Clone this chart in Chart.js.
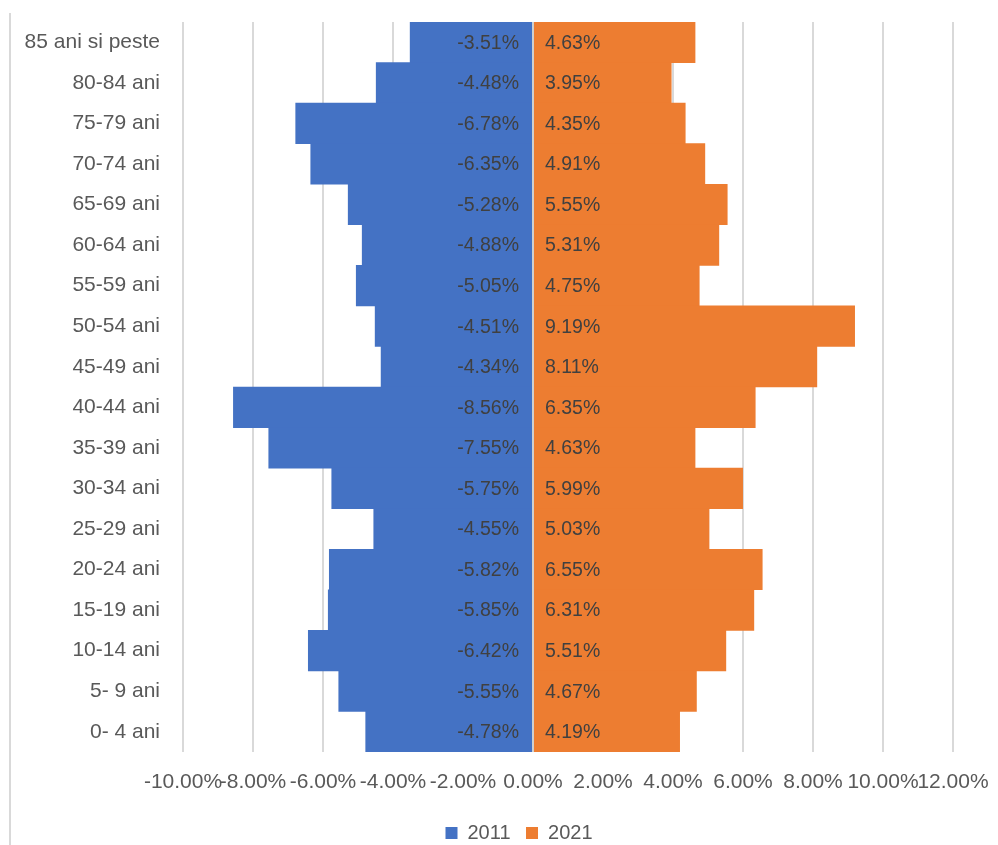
<!DOCTYPE html>
<html>
<head>
<meta charset="utf-8">
<script src="https://cdn.jsdelivr.net/npm/chart.js@4"></script>
<style>
html,body{margin:0;padding:0;background:#fff;}
#wrap{width:998px;height:845px;position:relative;}
</style>
</head>
<body>
<div id="wrap"><canvas id="c" width="998" height="845"></canvas></div>
<script>
const categories = ["85 ani si peste","80-84 ani","75-79 ani","70-74 ani","65-69 ani","60-64 ani","55-59 ani","50-54 ani","45-49 ani","40-44 ani","35-39 ani","30-34 ani","25-29 ani","20-24 ani","15-19 ani","10-14 ani","5- 9 ani","0- 4 ani"];
const values2011 = [-3.51,-4.48,-6.78,-6.35,-5.28,-4.88,-5.05,-4.51,-4.34,-8.56,-7.55,-5.75,-4.55,-5.82,-5.85,-6.42,-5.55,-4.78];
const values2021 = [4.63,3.95,4.35,4.91,5.55,5.31,4.75,9.19,8.11,6.35,4.63,5.99,5.03,6.55,6.31,5.51,4.67,4.19];
const seriesNames = ["2011","2021"];
const xTicks = [-10,-8,-6,-4,-2,0,2,4,6,8,10,12];

const FONT = "'Liberation Sans',Arial,sans-serif";

const frame = {
  id:'frame',
  beforeDraw(chart){
    const ctx = chart.ctx;
    ctx.save();
    ctx.strokeStyle = '#d9d9d9';
    ctx.lineWidth = 2;
    ctx.beginPath();
    ctx.moveTo(10,13); ctx.lineTo(10,845);
    ctx.stroke();
    ctx.restore();
  },
  afterUpdate(chart){
    const L = chart.legend;
    if (L) { L.left = 40; L.right = 998; }
  }
};

const zeroLine = {
  id:'zeroLine',
  afterDatasetsDraw(chart){
    const ctx = chart.ctx, x = chart.scales.x.getPixelForValue(0), a = chart.chartArea;
    ctx.save();
    ctx.strokeStyle = '#d0d0d0';
    ctx.lineWidth = 2;
    ctx.beginPath();
    ctx.moveTo(x,a.top); ctx.lineTo(x,a.bottom);
    ctx.stroke();
    ctx.font = "19.5px " + FONT;
    ctx.fillStyle = '#404040';
    ctx.textBaseline = 'middle';
    chart.data.datasets.forEach((ds,di)=>{
      const meta = chart.getDatasetMeta(di);
      meta.data.forEach((bar,i)=>{
        const v = ds.data[i];
        const txt = v.toFixed(2) + '%';
        if (v < 0) { ctx.textAlign='right'; ctx.fillText(txt, x-14, bar.y+1); }
        else { ctx.textAlign='left'; ctx.fillText(txt, x+12, bar.y+1); }
      });
    });
    ctx.restore();
  }
};

new Chart(document.getElementById('c'), {
  type:'bar',
  data:{
    labels: categories,
    datasets:[
      {label: seriesNames[0], data: values2011, backgroundColor:'#4472C4', borderWidth:0, barPercentage:1, categoryPercentage:1},
      {label: seriesNames[1], data: values2021, backgroundColor:'#ED7D31', borderWidth:0, barPercentage:1, categoryPercentage:1}
    ]
  },
  options:{
    indexAxis:'y',
    responsive:false,
    animation:false,
    layout:{padding:{left:0,right:45,top:22,bottom:-8}},
    plugins:{
      legend:{
        position:'bottom',
        labels:{font:{family:FONT,size:20},color:'#595959',boxWidth:12,boxHeight:12,padding:15.5}
      },
      tooltip:{enabled:false}
    },
    scales:{
      x:{
        stacked:true,
        min:-10, max:12,
        afterBuildTicks(scale){ scale.ticks = xTicks.map(v=>({value:v})); },
        afterFit(scale){ scale.height = 55.5; scale.paddingLeft = 0; scale.paddingRight = 0; },
        ticks:{autoSkip:false,maxRotation:0,padding:18,font:{family:FONT,size:21},color:'#595959',
          callback:(v)=>Number(v).toFixed(2)+'%'},
        grid:{color:'#d9d9d9',lineWidth:2,drawTicks:false},
        border:{display:false}
      },
      y:{
        stacked:true,
        afterFit(scale){ scale.width = 183; scale.paddingTop = 0; scale.paddingBottom = 0; },
        ticks:{padding:23,font:{family:FONT,size:21},color:'#595959'},
        grid:{display:false,drawTicks:false},
        border:{display:false}
      }
    }
  },
  plugins:[frame, zeroLine]
});
</script>
</body>
</html>
